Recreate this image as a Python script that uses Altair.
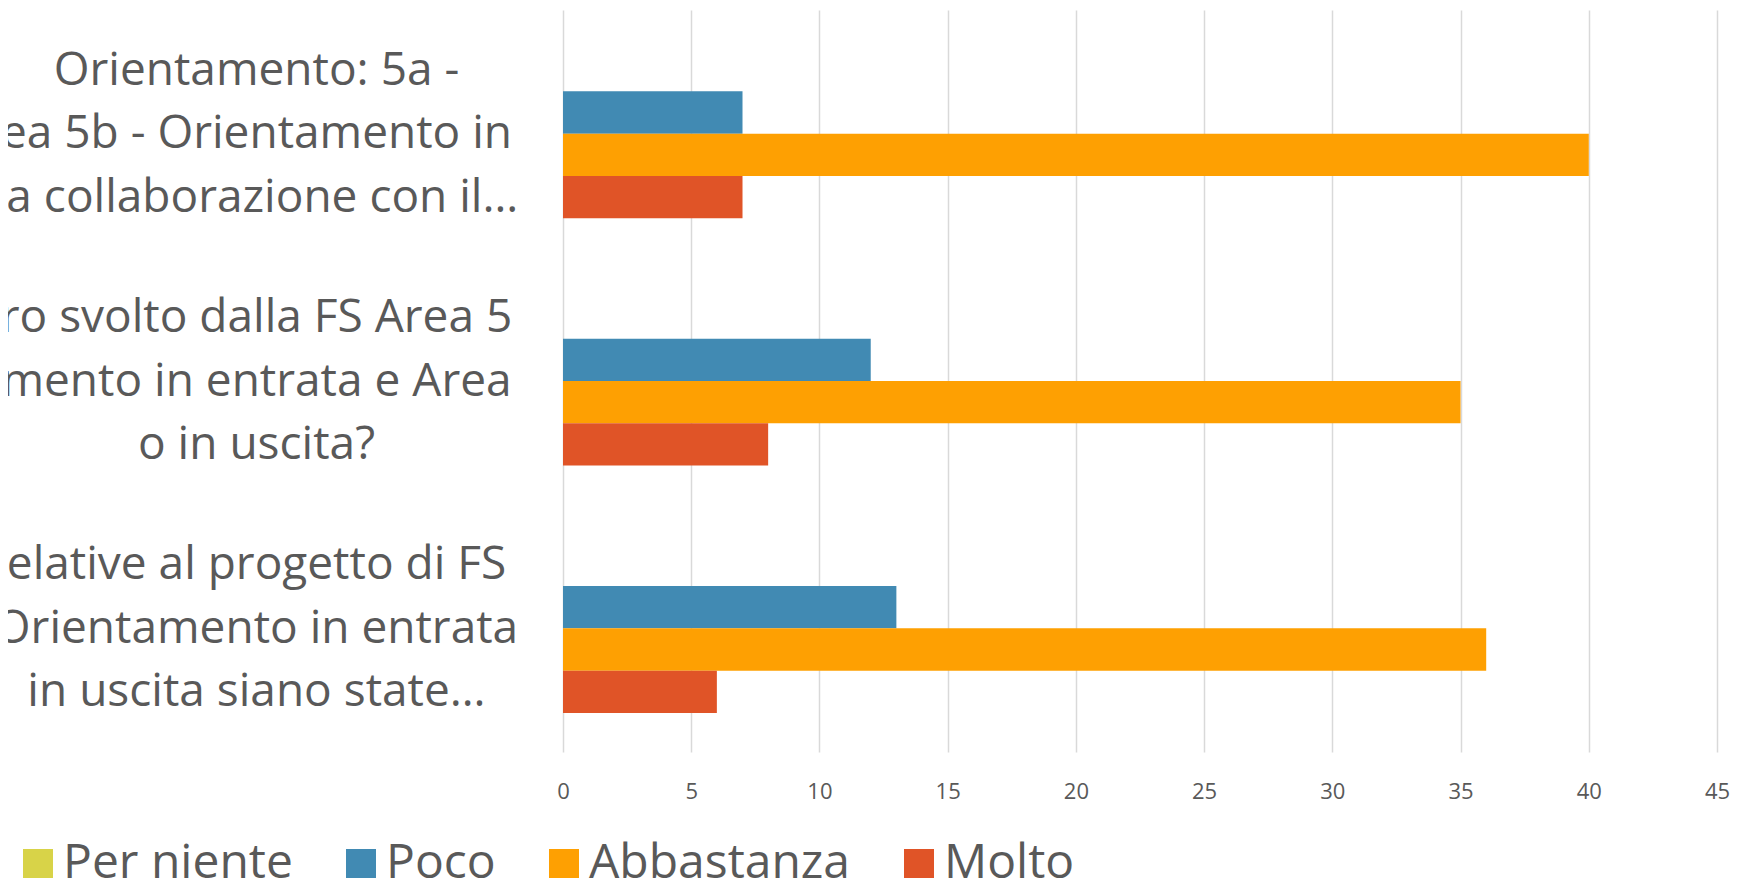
import altair as alt
import pandas as pd

# Category labels (visible part of the wrapped, left-cropped Excel labels)
categories = [
    "Orientamento: 5a -\nea 5b - Orientamento in\nla collaborazione con il…",
    "ro svolto dalla FS Area 5\nmento in entrata e Area\no in uscita?",
    "elative al progetto di FS\nOrientamento in entrata\nin uscita siano state…",
]
series = ["Per niente", "Poco", "Abbastanza", "Molto"]
per_niente = [0, 0, 0]
poco = [7, 12, 13]
abbastanza = [40, 35, 36]
molto = [7, 8, 6]
colors = ["#D8D348", "#418AB3", "#FEA002", "#E05427"]
x_ticks = [0, 5, 10, 15, 20, 25, 30, 35, 40, 45]

values_by_series = {
    "Per niente": per_niente,
    "Poco": poco,
    "Abbastanza": abbastanza,
    "Molto": molto,
}
rows = []
for s in series:
    for c, v in zip(categories, values_by_series[s]):
        rows.append({"domanda": c, "risposta": s, "valore": v})
df = pd.DataFrame(rows)

FONT = "Open Sans"
GREY = "#595959"

chart = (
    alt.Chart(df)
    .mark_bar()
    .encode(
        x=alt.X(
            "valore:Q",
            scale=alt.Scale(domain=[0, 45], nice=False, zero=True),
            axis=alt.Axis(
                values=x_ticks,
                title=None,
                domain=False,
                ticks=False,
                tickSize=0,
                grid=True,
                gridColor="#D9D9D9",
                gridWidth=1.5,
                labelFont=FONT,
                labelFontSize=22,
                labelColor=GREY,
                labelPadding=39,
                labelBaseline="middle",
                labelFlush=False,
            ),
        ),
        y=alt.Y(
            "domanda:N",
            sort=categories,
            scale=alt.Scale(paddingInner=0.316, paddingOuter=0.158),
            axis=alt.Axis(
                title=None,
                domain=False,
                ticks=False,
                tickSize=0,
                grid=False,
                labelExpr="split(datum.label, '\\n')",
                labelFont=FONT,
                labelFontSize=46,
                labelColor=GREY,
                labelAlign="center",
                labelBaseline="middle",
                labelLineHeight=63.5,
                labelOffset=-63,
                labelPadding=307,
                labelLimit=0,
            ),
        ),
        yOffset=alt.YOffset("risposta:N", sort=series),
        color=alt.Color(
            "risposta:N",
            sort=series,
            scale=alt.Scale(domain=series, range=colors),
            legend=alt.Legend(
                title=None,
                orient="none",
                direction="horizontal",
                legendX=-549,
                legendY=830,
                symbolType="square",
                symbolSize=900,
                symbolStrokeWidth=0,
                labelFont=FONT,
                labelFontSize=48,
                labelColor=GREY,
                labelOffset=1,
                columnPadding=44,
                padding=0,
                labelLimit=0,
            ),
        ),
    )
    .properties(
        width=1154,
        height=742,
        padding={"left": 555, "top": 2, "right": 15, "bottom": 126},
        autosize=alt.AutoSizeParams(type="none"),
    )
    .configure_view(stroke=None)
)

chart.save("out.html", embed_options={"renderer": "svg", "actions": False})
